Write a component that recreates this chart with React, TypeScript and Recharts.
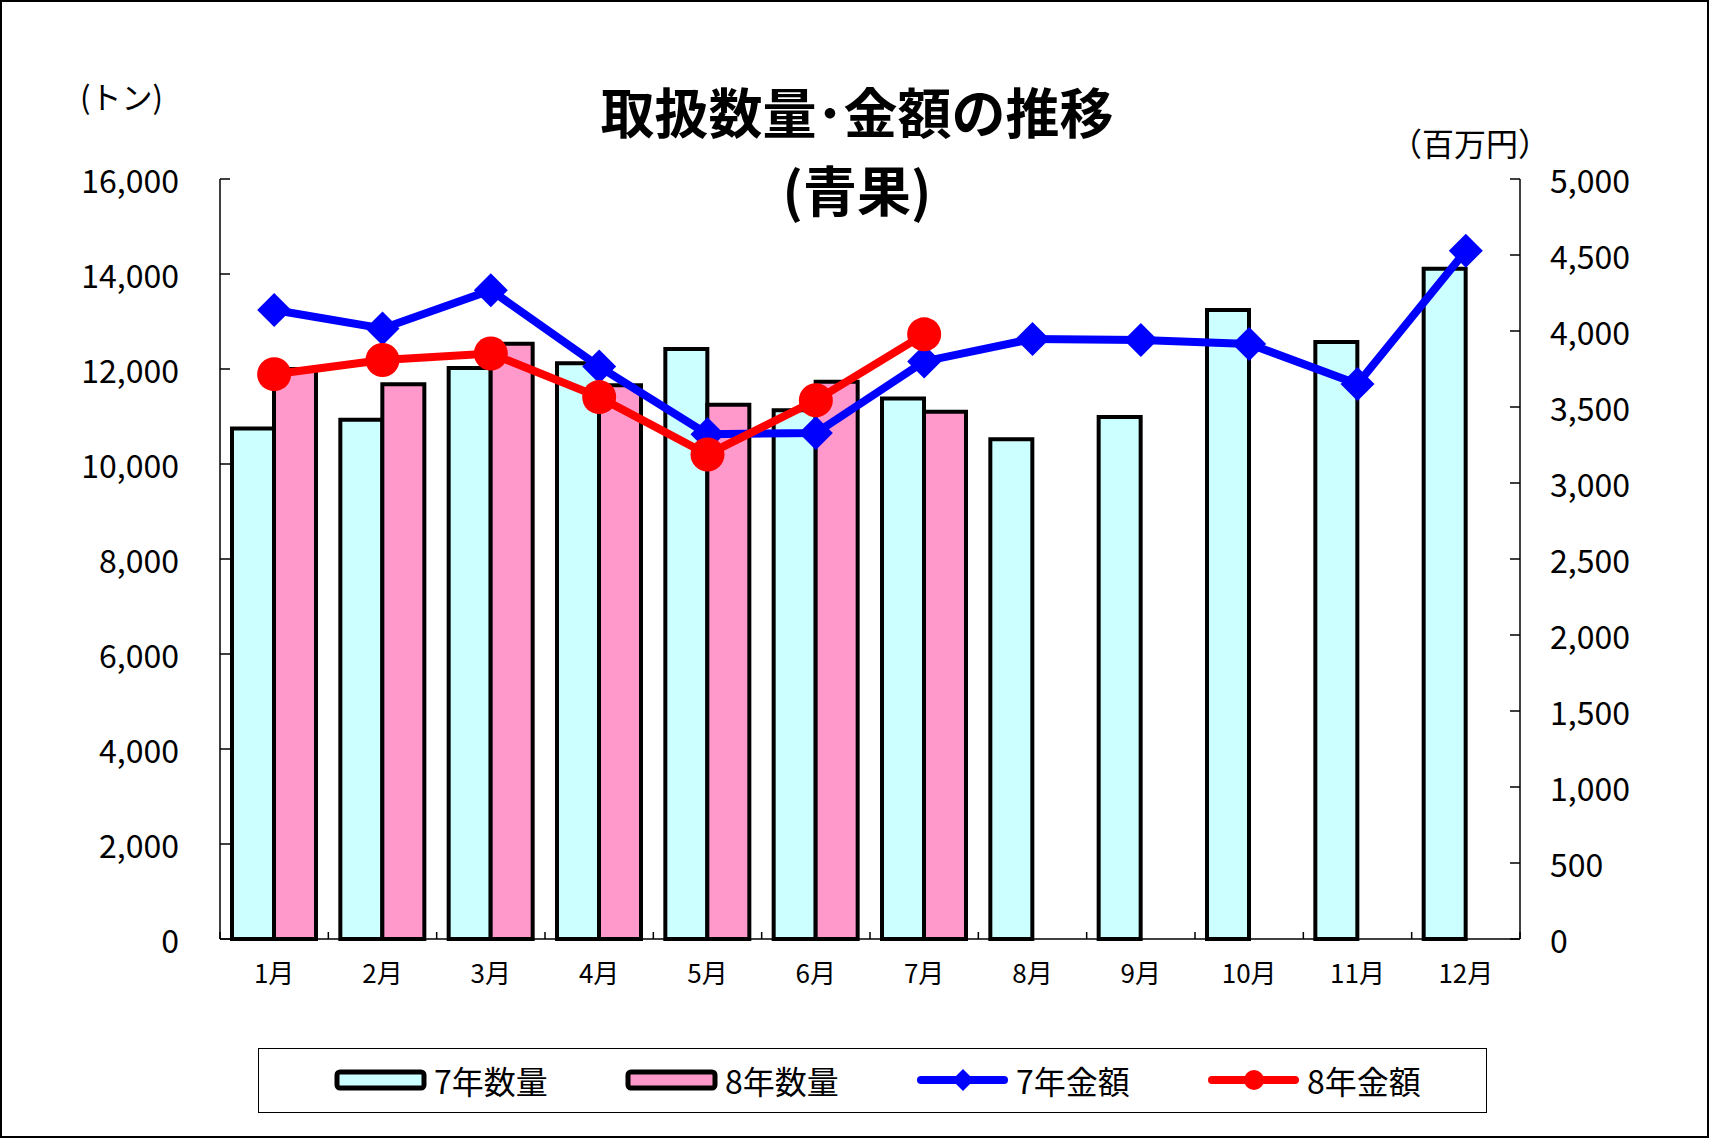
import { Bar, ComposedChart, Line, XAxis, YAxis } from "recharts";

const FONT = '"Noto Sans CJK JP", "Noto Sans", sans-serif';

const months = ["1月", "2月", "3月", "4月", "5月", "6月", "7月", "8月", "9月", "10月", "11月", "12月"];
// 数量 (トン)
const qty7 = [10750, 10930, 12020, 12120, 12420, 11130, 11380, 10520, 10990, 13240, 12570, 14110];
const qty8 = [12000, 11680, 12530, 11660, 11250, 11730, 11100];
// 金額 (百万円)
const amt7 = [4138, 4017, 4268, 3766, 3321, 3329, 3800, 3948, 3940, 3915, 3651, 4528];
const amt8 = [3716, 3809, 3852, 3565, 3188, 3544, 3978];

const qtyTicks = [0, 2000, 4000, 6000, 8000, 10000, 12000, 14000, 16000];
const amtTicks = [0, 500, 1000, 1500, 2000, 2500, 3000, 3500, 4000, 4500, 5000];

const data = months.map((m, i) => ({
  month: m,
  qty7: qty7[i],
  qty8: qty8[i] ?? null,
  amt7: amt7[i],
  amt8: amt8[i] ?? null,
}));

const BLUE = "#0000FF";
const RED = "#FF0000";

const legendItems = [
  { label: "7年数量", kind: "bar", color: "#CCFFFF" },
  { label: "8年数量", kind: "bar", color: "#FF99CC" },
  { label: "7年金額", kind: "diamond", color: BLUE },
  { label: "8年金額", kind: "circle", color: RED },
];

const W = 1709;
const H = 1138;
const PLOT_LEFT = 220;
const PLOT_RIGHT = 1520;
const BAND = (PLOT_RIGHT - PLOT_LEFT) / months.length;

function LeftTick(props: any) {
  const { x, y, payload } = props;
  return (
    <g>
      <line x1={x} x2={x + 10} y1={y} y2={y} stroke="#000" strokeWidth={1.5} />
      <text x={x - 41} y={y} textAnchor="end" dominantBaseline="central" fontSize={32} fontFamily={FONT} fill="#000">
        {payload.value.toLocaleString("en-US")}
      </text>
    </g>
  );
}

function RightTick(props: any) {
  const { x, y, payload } = props;
  return (
    <g>
      <line x1={x} x2={x - 10} y1={y} y2={y} stroke="#000" strokeWidth={1.5} />
      <text x={x + 30} y={y} textAnchor="start" dominantBaseline="central" fontSize={32} fontFamily={FONT} fill="#000">
        {payload.value.toLocaleString("en-US")}
      </text>
    </g>
  );
}

function MonthTick(props: any) {
  const { x, y, payload, index } = props;
  return (
    <g>
      <line x1={x - BAND / 2} x2={x - BAND / 2} y1={y} y2={y - 7} stroke="#000" strokeWidth={1.5} />
      {index === months.length - 1 && (
        <line x1={x + BAND / 2} x2={x + BAND / 2} y1={y} y2={y - 7} stroke="#000" strokeWidth={1.5} />
      )}
      <text x={x} y={y + 32} textAnchor="middle" dominantBaseline="central" fontSize={26} fontFamily={FONT} fill="#000">
        {payload.value}
      </text>
    </g>
  );
}

function diamondPoints(cx: number, cy: number, s: number) {
  return `${cx},${cy - s} ${cx + s},${cy} ${cx},${cy + s} ${cx - s},${cy}`;
}

function BlueDiamond(props: any) {
  const { cx, cy } = props;
  if (cx == null || cy == null) return null;
  return <polygon points={diamondPoints(cx, cy, 17)} fill={BLUE} />;
}

function RedDot(props: any) {
  const { cx, cy } = props;
  if (cx == null || cy == null) return null;
  return <circle cx={cx} cy={cy} r={17} fill={RED} />;
}

function LegendBox() {
  return (
    <div
      style={{
        position: "absolute",
        left: 258,
        top: 1048,
        width: 1229,
        height: 65,
        border: "1.5px solid #000",
        boxSizing: "border-box",
        background: "#fff",
      }}
    >
      <svg width={1226} height={62}>
        {legendItems.map((it, i) => {
          const x0 = 76 + 291 * i;
          return (
            <g key={it.label}>
              {it.kind === "bar" ? (
                <rect x={x0 + 2} y={23} width={87} height={16} rx={3} fill={it.color} stroke="#000" strokeWidth={5} />
              ) : (
                <line x1={x0 + 4} x2={x0 + 87} y1={31} y2={31} stroke={it.color} strokeWidth={8} strokeLinecap="round" />
              )}
              {it.kind === "diamond" && <polygon points={diamondPoints(x0 + 46, 31, 11)} fill={it.color} />}
              {it.kind === "circle" && <circle cx={x0 + 46} cy={31} r={10} fill={it.color} />}
              <text x={x0 + 99} y={31} dominantBaseline="central" fontSize={32} fontFamily={FONT} fill="#000">
                {it.label}
              </text>
            </g>
          );
        })}
      </svg>
    </div>
  );
}

export default function App() {
  const titleStyle = {
    position: "absolute" as const,
    left: 557,
    width: 600,
    textAlign: "center" as const,
    fontSize: 54,
    fontWeight: 700,
    lineHeight: "60px",
    color: "#000",
  };
  return (
    <div style={{ position: "absolute", left: 0, top: 0, width: W, height: H, background: "#fff", fontFamily: FONT }}>
      <ComposedChart
        width={W}
        height={H}
        data={data}
        margin={{ top: 179, right: 109, bottom: 139, left: 140 }}
        barGap={0}
        barCategoryGap={12}
      >
        <XAxis
          dataKey="month"
          height={60}
          axisLine={{ stroke: "#000", strokeWidth: 1.5 }}
          tickLine={false}
          tickSize={0}
          tickMargin={0}
          tick={<MonthTick />}
          interval={0}
        />
        <YAxis
          yAxisId="qty"
          width={80}
          domain={[0, 16000]}
          ticks={qtyTicks}
          axisLine={{ stroke: "#000", strokeWidth: 1.5 }}
          tickLine={false}
          tickSize={0}
          tickMargin={0}
          tick={<LeftTick />}
          interval={0}
        />
        <YAxis
          yAxisId="amt"
          orientation="right"
          width={80}
          domain={[0, 5000]}
          ticks={amtTicks}
          axisLine={{ stroke: "#000", strokeWidth: 1.5 }}
          tickLine={false}
          tickSize={0}
          tickMargin={0}
          tick={<RightTick />}
          interval={0}
        />
        <Bar yAxisId="qty" dataKey="qty7" fill="#CCFFFF" stroke="#000" strokeWidth={4} isAnimationActive={false} />
        <Bar yAxisId="qty" dataKey="qty8" fill="#FF99CC" stroke="#000" strokeWidth={4} isAnimationActive={false} />
        <Line
          yAxisId="amt"
          dataKey="amt7"
          stroke={BLUE}
          strokeWidth={8}
          dot={<BlueDiamond />}
          activeDot={false}
          isAnimationActive={false}
        />
        <Line
          yAxisId="amt"
          dataKey="amt8"
          stroke={RED}
          strokeWidth={8}
          dot={<RedDot />}
          activeDot={false}
          isAnimationActive={false}
        />
      </ComposedChart>

      <div style={{ position: "absolute", left: 80, top: 76, fontSize: 31, lineHeight: "40px", color: "#000" }}>(トン)</div>
      <div style={{ position: "absolute", left: 1390, top: 122, fontSize: 32, lineHeight: "40px", color: "#000" }}>（百万円）</div>
      <div style={{ ...titleStyle, top: 81 }}>取扱数量･金額の推移</div>
      <div style={{ ...titleStyle, top: 159 }}>(青果)</div>
      <LegendBox />
      <div
        style={{
          position: "absolute",
          left: 0,
          top: 0,
          width: W,
          height: H,
          border: "2px solid #000",
          boxSizing: "border-box",
          pointerEvents: "none",
        }}
      />
    </div>
  );
}
